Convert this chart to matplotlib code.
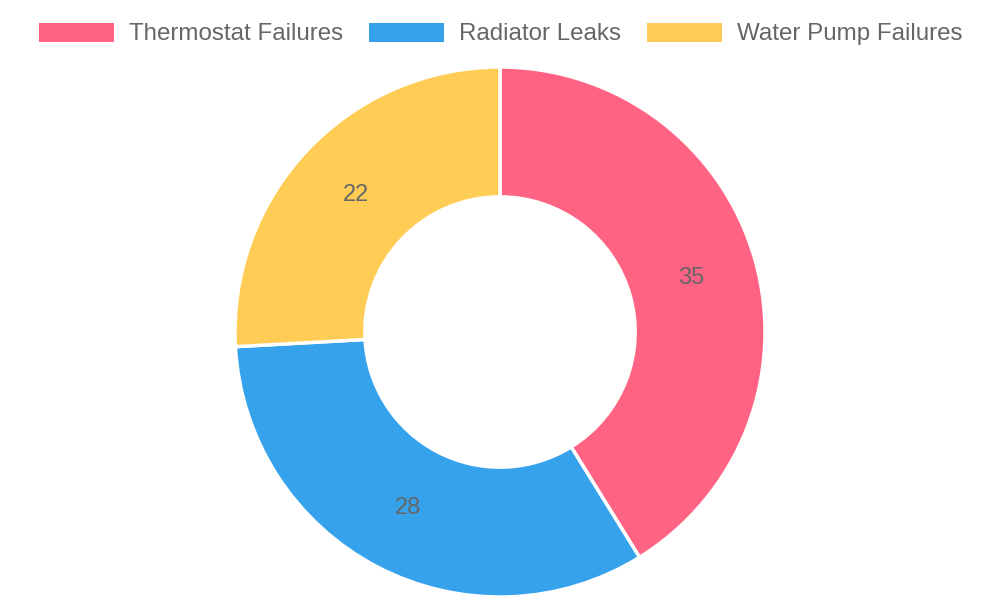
import matplotlib
matplotlib.use("Agg")
import matplotlib.pyplot as plt
from matplotlib.patches import Patch

labels = ["Thermostat Failures", "Radiator Leaks", "Water Pump Failures"]
values = [35, 28, 22]
colors = ["#ff6384", "#36a2eb", "#ffcd56"]

plt.rcParams["font.family"] = ["Liberation Sans", "DejaVu Sans"]

fig = plt.figure(figsize=(10, 6), dpi=100)
# doughnut centred at (500, 332) px, outer radius ~265 px
ax = fig.add_axes([(500 - 265) / 1000, (600 - 597) / 600, 530 / 1000, 530 / 600])

wedges, _, autotexts = ax.pie(
    values, colors=colors, startangle=90, counterclock=False,
    radius=1.0, pctdistance=0.75,
    autopct=lambda p: f"{round(p * sum(values) / 100):d}",
    wedgeprops=dict(width=0.49, edgecolor="white", linewidth=2.5),
    textprops=dict(color="#666666", fontsize=17),
)
ax.set_xlim(-1, 1); ax.set_ylim(-1, 1)
ax.set_aspect("equal")
ax.axis("off")

handles = [Patch(facecolor=c, edgecolor="none") for c in colors]
fig.legend(handles, labels, loc="center", bbox_to_anchor=(0.5005, 1 - 34 / 600),
           ncol=3, frameon=False, fontsize=17.4, labelcolor="#666666",
           handlelength=3.1, handleheight=0.83, handletextpad=0.62,
           columnspacing=1.07, borderpad=0, borderaxespad=0)

fig.savefig("out.png", dpi=100)
